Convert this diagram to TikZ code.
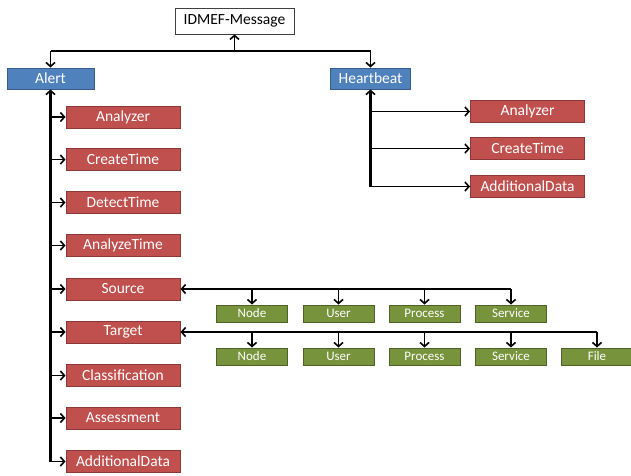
\documentclass[tikz,border=0pt]{standalone}
\usepackage{fontspec}
\setmainfont{Carlito}
\usetikzlibrary{arrows.meta}
\definecolor{bluefill}{HTML}{4F81BD}
\definecolor{blueedge}{HTML}{385D8A}
\definecolor{redfill}{HTML}{C0504D}
\definecolor{rededge}{HTML}{8C3836}
\definecolor{greenfill}{HTML}{77933C}
\definecolor{greenedge}{HTML}{4F6228}
\begin{document}
\begin{tikzpicture}[x=1pt,y=-1pt,
  box/.style={draw, line width=1pt, inner sep=0pt, text=white,
    font=\fontsize{15.5}{17}\selectfont},
  topbox/.style={box, fill=white, draw=black!75, line width=0.8pt, text=black,
    minimum width=119pt, minimum height=26pt},
  bluebox/.style={box, fill=bluefill, draw=blueedge, minimum height=21pt},
  redbox/.style={box, fill=redfill, draw=rededge, minimum width=114pt, minimum height=22pt},
  greenbox/.style={box, fill=greenfill, draw=greenedge, minimum width=71pt, minimum height=17pt,
    font=\fontsize{13}{15}\selectfont},
  wire/.style={line width=1.9pt},
  trunk/.style={line width=2.8pt},
  tip/.style={-{Straight Barb[length=4pt,width=9pt,line width=1.6pt]}}
]
\useasboundingbox (0,0) rectangle (631,475);

% root and the two message kinds
\node[topbox] (idmef) at (234.5,21) {IDMEF-Message};
\node[bluebox, minimum width=87pt] (alert) at (50.5,78.5) {Alert};
\node[bluebox, minimum width=80pt] (heart) at (370.5,78.5) {Heartbeat};
\coordinate (jtop) at (234.5,51);

% Alert children
\foreach \n/\y/\t in {a1/117/Analyzer, a2/159.5/CreateTime, a3/202.5/DetectTime,
    a4/245.5/AnalyzeTime, a5/289/Source, a6/332/Target, a7/375.5/Classification,
    a8/418/Assessment, a9/461.5/AdditionalData}
  \node[redbox] (\n) at (123,\y) {\t};

% Heartbeat children
\foreach \n/\y/\t in {h1/111.5/Analyzer, h2/148.5/CreateTime, h3/186.5/AdditionalData}
  \node[redbox] (\n) at (527.5,\y) {\t};

% Source children
\foreach \n/\x/\t in {s1/252/Node, s2/338.5/User, s3/424.5/Process, s4/511/Service}
  \node[greenbox] (\n) at (\x,313.5) {\t};

% Target children
\foreach \n/\x/\t in {t1/252/Node, t2/338.5/User, t3/424.5/Process, t4/511/Service, t5/597/File}
  \node[greenbox] (\n) at (\x,356.5) {\t};

% root connectors
\draw[wire] (alert.north |- jtop) -- (heart.north |- jtop);
\draw[wire,tip] (jtop) -- (idmef.south);
\draw[wire,tip] (alert.north |- jtop) -- (alert.north);
\draw[wire,tip] (heart.north |- jtop) -- (heart.north);

% Alert trunk and branches
\draw[trunk,tip] (alert.south |- a9.west) -- (alert.south);
\foreach \n in {a1,a2,a3,a4,a5,a6,a7,a8,a9}
  \draw[wire,tip] (alert.south |- \n.west) -- (\n.west);

% Heartbeat trunk and branches
\draw[trunk,tip] (heart.south |- h3.west) -- (heart.south);
\foreach \n in {h1,h2,h3}
  \draw[wire,tip] (heart.south |- \n.west) -- (\n.west);

% Source bus
\draw[wire,tip] (s4.north |- a5.east) -- (a5.east);
\foreach \n in {s1,s2,s3,s4}
  \draw[wire,tip] (\n.north |- a5.east) -- (\n.north);

% Target bus
\draw[wire,tip] (t5.north |- a6.east) -- (a6.east);
\foreach \n in {t1,t2,t3,t4,t5}
  \draw[wire,tip] (\n.north |- a6.east) -- (\n.north);
\end{tikzpicture}
\end{document}
